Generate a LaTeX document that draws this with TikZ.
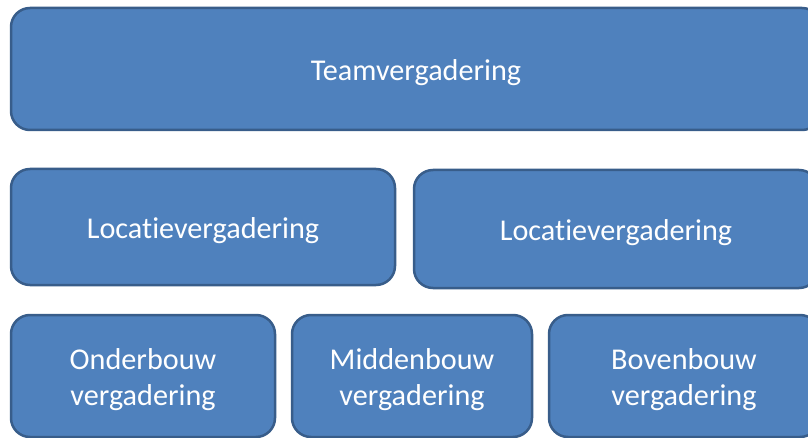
\documentclass[tikz,border=0pt]{standalone}
\usepackage{fontspec}
\setmainfont[Ligatures={NoCommon}]{Carlito}
\definecolor{boxfill}{HTML}{4F81BD}
\definecolor{boxline}{HTML}{385D8A}
\newcommand\tstrut{\rule{0pt}{29pt}}
\begin{document}
\begin{tikzpicture}[x=1pt,y=-1pt,
  blok/.style={draw=boxline, line width=2.5pt, fill=boxfill, rounded corners=19pt,
    text=white, font=\fontsize{30.2}{36}\selectfont, align=center,
    inner sep=0pt, anchor=center}]
\clip (0,0) rectangle (808,438);
\useasboundingbox (0,0) rectangle (808,438);
\node[blok, minimum width=810pt, minimum height=122pt] (team) at (416,69) {\tstrut Teamvergadering};
\node[blok, minimum width=384pt, minimum height=116pt] (locL) at (203,227) {\tstrut Locatievergadering};
\node[blok, minimum width=404pt, minimum height=118pt] (locR) at (616,229) {\tstrut Locatievergadering};
\node[blok, minimum width=264pt, minimum height=122pt] (onder) at (143,376) {\tstrut Onderbouw\\vergadering};
\node[blok, minimum width=240pt, minimum height=122pt] (midden) at (412,376) {\tstrut Middenbouw\\vergadering};
\node[blok, minimum width=270pt, minimum height=122pt] (boven) at (684,376) {\tstrut Bovenbouw\\vergadering};
\end{tikzpicture}
\end{document}
